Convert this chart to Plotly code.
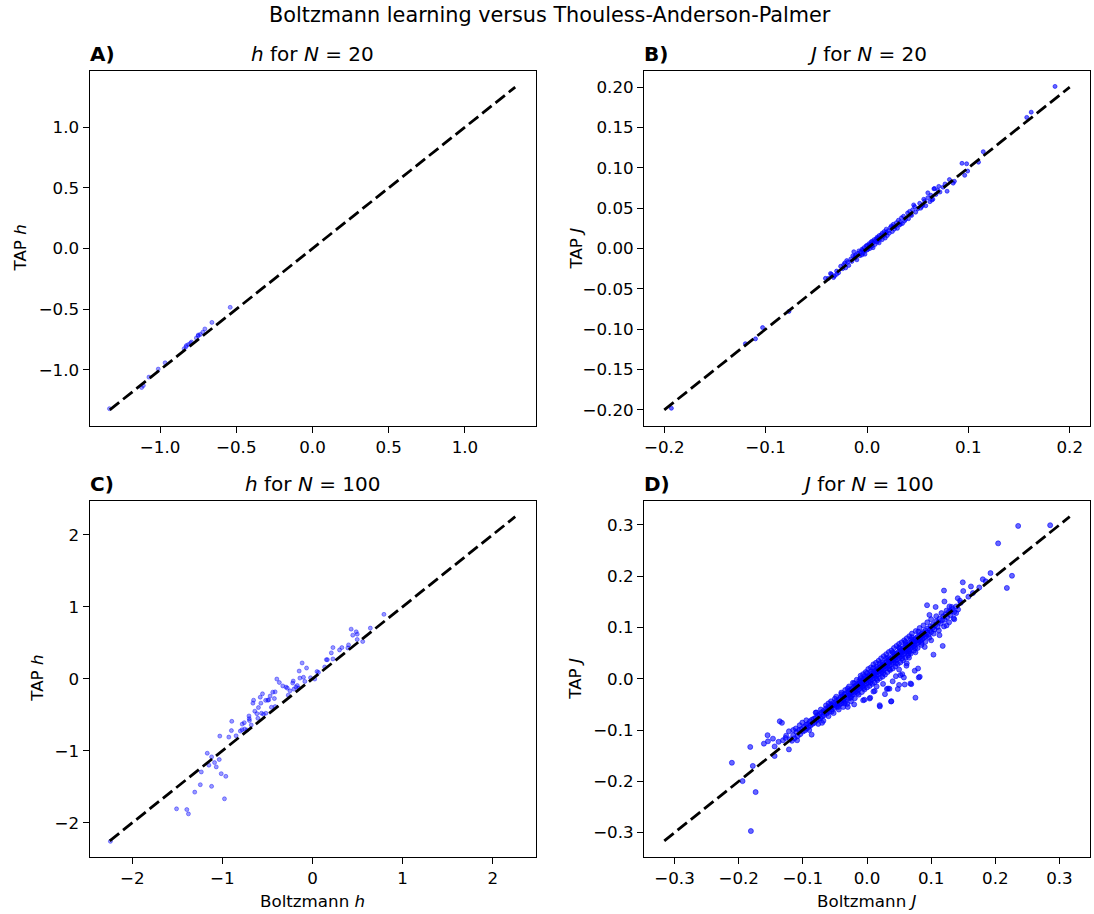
import plotly.graph_objects as go

W, H = 1094, 914

# ---------------- data ----------------
# Panel A: h for N = 20
h20_boltzmann = [-1.332, -1.121, -1.073, -1.012, -0.967, -0.842, -0.827, -0.814, -0.794, -0.762,
                 -0.749, -0.736, -0.706, -0.660, -0.540, -0.830, -0.800, -0.750, -0.720, -1.110]
h20_tap = [-1.320, -1.146, -1.060, -0.994, -0.942, -0.826, -0.799, -0.791, -0.771, -0.738,
           -0.713, -0.708, -0.663, -0.609, -0.485, -0.810, -0.780, -0.720, -0.690, -1.130]

# Panel B: J for N = 20
J20_boltzmann = [
    -0.038, -0.035, -0.033, -0.030, -0.028, -0.026, -0.024, -0.022, -0.021, -0.019,
    -0.018, -0.016, -0.015, -0.014, -0.013, -0.012, -0.011, -0.010, -0.009, -0.008,
    -0.007, -0.006, -0.005, -0.005, -0.004, -0.003, -0.002, -0.002, -0.001, 0.000,
    0.000, 0.001, 0.002, 0.002, 0.003, 0.003, 0.004, 0.005, 0.005, 0.006,
    0.006, 0.007, 0.008, 0.008, 0.009, 0.010, 0.010, 0.011, 0.012, 0.012,
    0.013, 0.014, 0.015, 0.015, 0.016, 0.017, 0.018, 0.018, 0.019, 0.020,
    0.021, 0.022, 0.023, 0.024, 0.025, 0.026, 0.027, 0.028, 0.029, 0.030,
    0.031, 0.032, 0.033, 0.034, 0.035, 0.036, 0.037, 0.038, 0.040, 0.041,
    0.042, 0.044, 0.045, 0.047, 0.048, 0.050, 0.052, 0.053, 0.055, 0.057,
    0.058, 0.060, 0.062, 0.063, 0.065, 0.066, 0.068, 0.070, 0.072, 0.075,
    -0.020, -0.012, -0.004, 0.004, 0.011, 0.019, 0.026, 0.033, 0.043, 0.054,
    -0.193, -0.120, -0.110, -0.103, -0.077, -0.041, -0.032, -0.030, 0.1855, 0.162,
    0.1576, 0.1147, 0.110, 0.0937, 0.0983, 0.0993, 0.0964, 0.0862, 0.0813, 0.0708,
    0.0666, 0.077, 0.079, 0.085, 0.060, 0.064, 0.056, 0.046, -0.023, -0.036,
]
J20_tap = [
    -0.037, -0.032, -0.036, -0.028, -0.030, -0.022, -0.025, -0.018, -0.024, -0.017,
    -0.021, -0.013, -0.016, -0.009, -0.004, -0.012, -0.008, -0.014, -0.006, -0.003,
    -0.009, -0.004, -0.001, -0.008, -0.006, 0.001, -0.003, -0.007, 0.003, -0.002,
    0.004, -0.001, 0.002, 0.006, 0.000, 0.005, 0.008, 0.003, 0.009, 0.001,
    0.007, 0.011, 0.005, 0.009, 0.012, 0.008, 0.014, 0.010, 0.016, 0.007,
    0.012, 0.017, 0.011, 0.019, 0.015, 0.021, 0.013, 0.018, 0.024, 0.016,
    0.022, 0.019, 0.026, 0.028, 0.021, 0.030, 0.024, 0.027, 0.032, 0.025,
    0.035, 0.029, 0.033, 0.038, 0.031, 0.040, 0.034, 0.036, 0.044, 0.037,
    0.046, 0.041, 0.048, 0.052, 0.045, 0.049, 0.056, 0.050, 0.054, 0.059,
    0.053, 0.063, 0.058, 0.066, 0.061, 0.074, 0.067, 0.072, 0.070, 0.076,
    -0.015, -0.010, -0.002, 0.003, 0.013, 0.020, 0.027, 0.030, 0.042, 0.052,
    -0.198, -0.118, -0.112, -0.098, -0.078, -0.037, -0.034, -0.032, 0.2009, 0.169,
    0.1625, 0.120, 0.107, 0.1056, 0.105, 0.096, 0.0907, 0.0833, 0.0854, 0.077,
    0.0743, 0.080, 0.071, 0.081, 0.069, 0.060, 0.061, 0.054, -0.020, -0.031,
]

# Panel C: h for N = 100
h100_boltzmann = [
    -2.243, -1.509, -1.395, -1.377, -1.307, -1.245, -1.234, -1.120, -1.168, -1.120,
    -1.087, -1.068, -1.035, -1.013, -0.962, -0.977, -1.029, -0.929, -0.896, -0.848,
    -0.801, -0.782, -0.757, -0.753, -0.727, -0.705, -0.702, -0.680, -0.661, -0.654,
    -0.617, -0.606, -0.580, -0.573, -0.566, -0.555, -0.544, -0.518, -0.496, -0.485,
    -0.456, -0.441, -0.423, -0.415, -0.415, -0.396, -0.368, -0.294, -0.269, -0.250,
    -0.214, -0.206, -0.184, -0.169, -0.154, -0.148, -0.140, -0.115, -0.085, -0.066,
    -0.022, 0.025, 0.066, 0.135, 0.154, 0.165, 0.209, 0.227, 0.227, 0.326,
    0.392, 0.429, 0.447, 0.485, 0.496, 0.496, 0.557, 0.642, 0.793,
    -0.700, -0.640, -0.600, -0.520, -0.470, -0.330, -0.280, -0.220, -0.100, 0.050,
    0.300, 0.400, -0.900, -0.780, -1.150,
]
h100_tap = [
    -2.258, -1.806, -1.816, -1.876, -1.574, -1.471, -1.294, -1.494, -1.034, -1.085,
    -1.164, -1.224, -1.122, -1.318, -1.355, -1.667, -0.796, -0.810, -0.591, -0.792,
    -0.726, -0.708, -0.610, -0.698, -0.712, -0.517, -0.554, -0.642, -0.339, -0.298,
    -0.485, -0.549, -0.256, -0.339, -0.479, -0.209, -0.493, -0.479, -0.298, -0.293,
    -0.396, -0.186, -0.275, -0.182, -0.387, -0.004, -0.052, -0.116, -0.228, -0.168,
    -0.032, -0.144, -0.116, -0.094, -0.130, 0.107, 0.009, 0.219, -0.037, 0.149,
    0.014, -0.004, 0.088, 0.163, 0.265, 0.265, 0.359, 0.275, 0.433, 0.433,
    0.428, 0.689, 0.605, 0.652, 0.619, 0.545, 0.517, 0.703, 0.894,
    -0.580, -0.450, -0.400, -0.300, -0.240, -0.100, -0.130, -0.060, 0.020, 0.100,
    0.400, 0.470, -0.720, -0.630, -1.200,
]

# Panel D: J for N = 100
J100_boltzmann = [
    -0.120, -0.117, -0.115, -0.113, -0.110, -0.108, -0.106, -0.104, -0.102, -0.100,
    -0.098, -0.097, -0.095, -0.094, -0.092, -0.091, -0.089, -0.088, -0.086, -0.085,
    -0.083, -0.082, -0.080, -0.079, -0.077, -0.076, -0.074, -0.073, -0.071, -0.070,
    -0.068, -0.067, -0.066, -0.064, -0.063, -0.062, -0.060, -0.059, -0.058, -0.056,
    -0.055, -0.054, -0.052, -0.051, -0.050, -0.048, -0.047, -0.046, -0.044, -0.043,
    -0.042, -0.041, -0.040, -0.038, -0.037, -0.036, -0.035, -0.034, -0.032, -0.031,
    -0.030, -0.029, -0.028, -0.027, -0.026, -0.025, -0.024, -0.023, -0.022, -0.021,
    -0.020, -0.019, -0.018, -0.017, -0.016, -0.015, -0.014, -0.013, -0.012, -0.011,
    -0.010, -0.009, -0.008, -0.007, -0.006, -0.005, -0.004, -0.003, -0.002, -0.001,
    0.000, 0.001, 0.002, 0.003, 0.004, 0.005, 0.006, 0.007, 0.008, 0.009,
    0.010, 0.011, 0.012, 0.013, 0.014, 0.015, 0.016, 0.017, 0.018, 0.019,
    0.020, 0.021, 0.022, 0.023, 0.024, 0.025, 0.026, 0.027, 0.028, 0.029,
    0.030, 0.031, 0.032, 0.033, 0.034, 0.035, 0.036, 0.037, 0.038, 0.039,
    0.040, 0.041, 0.042, 0.043, 0.044, 0.045, 0.046, 0.047, 0.048, 0.049,
    0.050, 0.051, 0.052, 0.053, 0.054, 0.055, 0.056, 0.057, 0.058, 0.059,
    0.060, 0.061, 0.062, 0.063, 0.064, 0.065, 0.066, 0.067, 0.068, 0.069,
    0.070, 0.071, 0.072, 0.073, 0.074, 0.075, 0.076, 0.077, 0.078, 0.079,
    0.080, 0.081, 0.082, 0.083, 0.084, 0.085, 0.086, 0.087, 0.088, 0.089,
    0.090, 0.091, 0.092, 0.094, 0.095, 0.096, 0.098, 0.099, 0.100, 0.102,
    0.103, 0.105, 0.106, 0.108, 0.110, 0.111, 0.113, 0.115, 0.117, 0.119,
    0.121, 0.123, 0.125, 0.128, 0.130, 0.133, 0.136, 0.139, 0.142, 0.146,
    -0.080, -0.076, -0.072, -0.068, -0.064, -0.060, -0.056, -0.052, -0.048, -0.044,
    -0.040, -0.037, -0.034, -0.031, -0.028, -0.025, -0.022, -0.019, -0.016, -0.013,
    -0.010, -0.008, -0.006, -0.004, -0.002, 0.000, 0.002, 0.004, 0.006, 0.008,
    0.010, 0.012, 0.014, 0.016, 0.018, 0.020, 0.022, 0.024, 0.026, 0.028,
    0.030, 0.032, 0.034, 0.036, 0.038, 0.040, 0.042, 0.044, 0.046, 0.048,
    0.050, 0.052, 0.054, 0.056, 0.058, 0.060, 0.062, 0.064, 0.066, 0.068,
    0.070, 0.073, 0.076, 0.079, 0.082, 0.085, 0.088, 0.091, 0.094, 0.097,
    0.100, 0.104, 0.108, 0.112, 0.116, 0.120, 0.124, 0.128, 0.132, 0.136,
    -0.060, -0.055, -0.050, -0.045, -0.040, -0.035, -0.030, -0.025, -0.020, -0.015,
    -0.010, -0.005, 0.000, 0.005, 0.010, 0.015, 0.020, 0.025, 0.030, 0.035,
    0.040, 0.045, 0.050, 0.055, 0.060, 0.065, 0.070, 0.075, 0.080, 0.085,
    -0.012, -0.003, 0.006, 0.015, 0.024, 0.033, 0.042, 0.051, 0.060, 0.069,
    -0.2106, -0.182, -0.178, -0.194, -0.1736, -0.181, -0.155, -0.1607, -0.1544, -0.1466,
    -0.144, -0.144, -0.136, -0.1326, -0.1378, -0.131, -0.127, -0.1217, -0.1217, -0.109,
    -0.111, -0.105, -0.1008, -0.0946, -0.0863, -0.079, -0.126, -0.115, -0.090, -0.070,
    0.020, 0.0375, 0.0755, 0.069, 0.0807, 0.0744, 0.055, 0.0575, 0.031, 0.035,
    0.005, -0.004, 0.118, 0.1036, 0.0755, 0.0655, 0.0615, 0.0796, 0.0822, 0.0677,
    0.0588, 0.052, 0.0328, 0.038, 0.0198, 0.124, 0.218, 0.226, 0.2044, 0.2356,
    0.2855, 0.1925, 0.1805, 0.1493, 0.120, 0.0936, 0.1207, 0.1415, 0.162, 0.165,
    0.150, 0.1285, 0.131, 0.0973, 0.066, 0.185, 0.175, 0.158, 0.145, 0.139,
    0.010, 0.025, 0.045, 0.062, 0.040, 0.015, 0.028, 0.050, 0.090, 0.100,
    0.004, -0.006, 0.012, 0.050, 0.048, -0.020, -0.030, 0.107, 0.113, 0.135,
]
J100_tap = [
    -0.118, -0.121, -0.110, -0.116, -0.104, -0.112, -0.100, -0.108, -0.098, -0.103,
    -0.094, -0.101, -0.090, -0.097, -0.088, -0.094, -0.083, -0.091, -0.080, -0.088,
    -0.078, -0.086, -0.076, -0.082, -0.071, -0.079, -0.070, -0.077, -0.066, -0.074,
    -0.063, -0.071, -0.066, -0.058, -0.068, -0.061, -0.055, -0.064, -0.057, -0.050,
    -0.060, -0.053, -0.047, -0.057, -0.051, -0.044, -0.054, -0.049, -0.040, -0.050,
    -0.045, -0.036, -0.048, -0.034, -0.042, -0.039, -0.030, -0.045, -0.028, -0.037,
    -0.033, -0.025, -0.038, -0.030, -0.022, -0.034, -0.027, -0.019, -0.031, -0.024,
    -0.016, -0.027, -0.020, -0.013, -0.024, -0.017, -0.010, -0.021, -0.014, -0.008,
    -0.018, -0.011, -0.004, -0.015, -0.008, -0.001, -0.012, -0.005, 0.001, -0.009,
    -0.002, 0.004, -0.007, 0.001, 0.007, -0.004, 0.003, 0.010, -0.001, 0.006,
    0.013, 0.002, 0.009, 0.016, 0.006, 0.012, 0.019, 0.008, 0.015, 0.022,
    0.011, 0.018, 0.025, 0.014, 0.021, 0.028, 0.017, 0.024, 0.031, 0.020,
    0.027, 0.034, 0.023, 0.030, 0.037, 0.026, 0.033, 0.040, 0.029, 0.036,
    0.043, 0.032, 0.039, 0.046, 0.035, 0.042, 0.049, 0.038, 0.045, 0.052,
    0.041, 0.048, 0.055, 0.044, 0.051, 0.058, 0.047, 0.054, 0.061, 0.050,
    0.057, 0.064, 0.053, 0.060, 0.067, 0.056, 0.063, 0.070, 0.059, 0.066,
    0.073, 0.062, 0.069, 0.076, 0.065, 0.072, 0.079, 0.068, 0.075, 0.082,
    0.071, 0.078, 0.085, 0.074, 0.081, 0.088, 0.077, 0.084, 0.091, 0.080,
    0.087, 0.094, 0.083, 0.090, 0.098, 0.086, 0.095, 0.102, 0.091, 0.099,
    0.106, 0.096, 0.104, 0.112, 0.101, 0.110, 0.117, 0.108, 0.114, 0.122,
    0.115, 0.126, 0.120, 0.131, 0.124, 0.136, 0.130, 0.141, 0.135, 0.148,
    -0.066, -0.088, -0.060, -0.082, -0.052, -0.073, -0.044, -0.067, -0.035, -0.060,
    -0.027, -0.055, -0.022, -0.049, -0.015, -0.044, -0.008, -0.038, -0.002, -0.031,
    0.006, -0.026, 0.009, -0.021, 0.013, -0.017, 0.019, -0.014, 0.022, -0.010,
    0.028, -0.007, 0.031, -0.003, 0.035, 0.001, 0.040, 0.004, 0.044, 0.008,
    0.048, 0.013, 0.052, 0.017, 0.055, 0.020, 0.060, 0.024, 0.064, 0.029,
    0.068, 0.032, 0.071, 0.036, 0.075, 0.041, 0.079, 0.045, 0.083, 0.049,
    0.088, 0.055, 0.093, 0.060, 0.099, 0.066, 0.104, 0.072, 0.110, 0.080,
    0.116, 0.088, 0.122, 0.094, 0.128, 0.102, 0.133, 0.110, 0.140, 0.116,
    -0.048, -0.064, -0.039, -0.055, -0.030, -0.048, -0.019, -0.037, -0.009, -0.028,
    0.001, -0.018, 0.011, -0.008, 0.021, 0.000, 0.030, 0.010, 0.040, 0.019,
    0.051, 0.030, 0.061, 0.040, 0.072, 0.049, 0.081, 0.060, 0.092, 0.070,
    -0.004, 0.005, 0.014, 0.023, 0.032, 0.041, 0.050, 0.059, 0.068, 0.077,
    -0.1638, -0.133, -0.170, -0.1996, -0.221, -0.297, -0.110, -0.1266, -0.122, -0.1168,
    -0.132, -0.1507, -0.083, -0.086, -0.123, -0.120, -0.1155, -0.1025, -0.1378, -0.120,
    -0.097, -0.0908, -0.0855, -0.081, -0.109, -0.066, -0.111, -0.100, -0.100, -0.086,
    -0.054, -0.0444, -0.037, -0.0105, 0.0025, 0.0156, 0.009, 0.0025, -0.020, -0.0196,
    -0.037, -0.041, 0.064, 0.047, 0.0515, 0.041, 0.0254, 0.020, 0.0039, -0.0092,
    -0.0112, 0.007, -0.019, -0.0438, -0.0516, 0.104, 0.177, 0.2008, 0.264, 0.298,
    0.2994, 0.206, 0.194, 0.188, 0.172, 0.1434, 0.1506, 0.157, 0.180, 0.167,
    0.171, 0.141, 0.131, 0.1245, 0.053, 0.190, 0.178, 0.160, 0.152, 0.128,
    -0.025, -0.010, 0.005, 0.030, -0.005, -0.015, -0.030, 0.018, 0.062, 0.075,
    -0.0386, -0.042, -0.024, -0.012, -0.020, -0.050, -0.055, 0.140, 0.085, 0.118,
]

# Extent of the dashed identity line in each panel
diag_extent = [1.33, 0.20, 2.25, 0.316]

panel_letters = ["A)", "B)", "C)", "D)"]
panel_titles = ["<i>h</i> for <i>N</i> = 20", "<i>J</i> for <i>N</i> = 20",
                "<i>h</i> for <i>N</i> = 100", "<i>J</i> for <i>N</i> = 100"]
y_titles = ["TAP <i>h</i>", "TAP <i>J</i>", "TAP <i>h</i>", "TAP <i>J</i>"]
x_titles = [None, None, "Boltzmann <i>h</i>", "Boltzmann <i>J</i>"]
suptitle = "Boltzmann learning versus Thouless-Anderson-Palmer"

# ---------------- layout constants (pixels) ----------------
FONT = "DejaVu Sans"
TICK_SIZE = 16.7
LABEL_SIZE = 16.7
TITLE_SIZE = 20
SUPTITLE_SIZE = 20.8
boxes = [  # (left, right, top, bottom) in px
    (89.5, 535.5, 71, 426),
    (644, 1090, 71, 426),
    (89.5, 535.5, 500.5, 857),
    (644, 1090, 500.5, 857),
]
ylabel_x = [19, 575, 37, 575]
x_tick = [dict(dtick=0.5, tickformat=".1f"), dict(dtick=0.1, tickformat=".1f"),
          dict(dtick=1, tickformat="d"), dict(dtick=0.1, tickformat=".1f")]
y_tick = [dict(dtick=0.5, tickformat=".1f"), dict(dtick=0.05, tickformat=".2f"),
          dict(dtick=1, tickformat="d"), dict(dtick=0.1, tickformat=".1f")]
alphas = [0.4, 0.6, 0.4, 0.6]
msizes = [4, 4, 4, 5]

series = [(h20_boltzmann, h20_tap), (J20_boltzmann, J20_tap),
          (h100_boltzmann, h100_tap), (J100_boltzmann, J100_tap)]

fig = go.Figure()
annotations = []


def px2x(p):
    return p / W


def px2y(p):
    return 1 - p / H


for i, ((bx, by), L) in enumerate(zip(series, diag_extent)):
    n = "" if i == 0 else str(i + 1)
    xa, ya = "x" + n, "y" + n
    col = f"rgba(0,0,255,{alphas[i]})"
    fig.add_trace(go.Scatter(
        x=bx, y=by, mode="markers", xaxis=xa, yaxis=ya, showlegend=False,
        marker=dict(size=msizes[i], color=col, line=dict(color=col, width=1)),
        hoverinfo="skip"))
    fig.add_trace(go.Scatter(
        x=[-L, L], y=[-L, L], mode="lines", xaxis=xa, yaxis=ya, showlegend=False,
        line=dict(color="black", width=2.8, dash="12px,5px"), hoverinfo="skip"))

    l, r, t, b = boxes[i]
    rng = [-1.1 * L, 1.1 * L]
    common = dict(range=rng, showline=True, mirror=True, linecolor="black", linewidth=1,
                  ticks="outside", ticklen=6, tickwidth=1, tickcolor="black",
                  showgrid=False, zeroline=False, tick0=0,
                  tickfont=dict(family=FONT, size=TICK_SIZE, color="black"))
    fig.layout["xaxis" + n] = dict(domain=[px2x(l), px2x(r)], anchor=ya, **common, **x_tick[i])
    fig.layout["yaxis" + n] = dict(domain=[px2y(b), px2y(t)], anchor=xa, **common, **y_tick[i])

    cx = (l + r) / 2
    cy = (t + b) / 2
    annotations.append(dict(text=panel_titles[i], x=px2x(cx), y=px2y(t - 16.5),
                            xref="paper", yref="paper", xanchor="center", yanchor="middle",
                            showarrow=False, font=dict(family=FONT, size=TITLE_SIZE, color="black")))
    annotations.append(dict(text="<b>" + panel_letters[i] + "</b>", x=px2x(l - 2), y=px2y(t - 16.5),
                            xref="paper", yref="paper", xanchor="left", yanchor="middle",
                            showarrow=False, font=dict(family=FONT, size=TITLE_SIZE, color="black")))
    annotations.append(dict(text=y_titles[i], x=px2x(ylabel_x[i]), y=px2y(cy),
                            xref="paper", yref="paper", xanchor="center", yanchor="middle",
                            textangle=-90, showarrow=False,
                            font=dict(family=FONT, size=LABEL_SIZE, color="black")))
    if x_titles[i]:
        annotations.append(dict(text=x_titles[i], x=px2x(cx), y=px2y(901),
                                xref="paper", yref="paper", xanchor="center", yanchor="middle",
                                showarrow=False, font=dict(family=FONT, size=LABEL_SIZE, color="black")))

annotations.append(dict(text=suptitle, x=px2x(550), y=px2y(15.5), xref="paper", yref="paper",
                        xanchor="center", yanchor="middle", showarrow=False,
                        font=dict(family=FONT, size=SUPTITLE_SIZE, color="black")))

fig.update_layout(width=W, height=H, autosize=False,
                  margin=dict(l=0, r=0, t=0, b=0),
                  paper_bgcolor="white", plot_bgcolor="white",
                  annotations=annotations, font=dict(family=FONT))

fig.write_html("out.html")
